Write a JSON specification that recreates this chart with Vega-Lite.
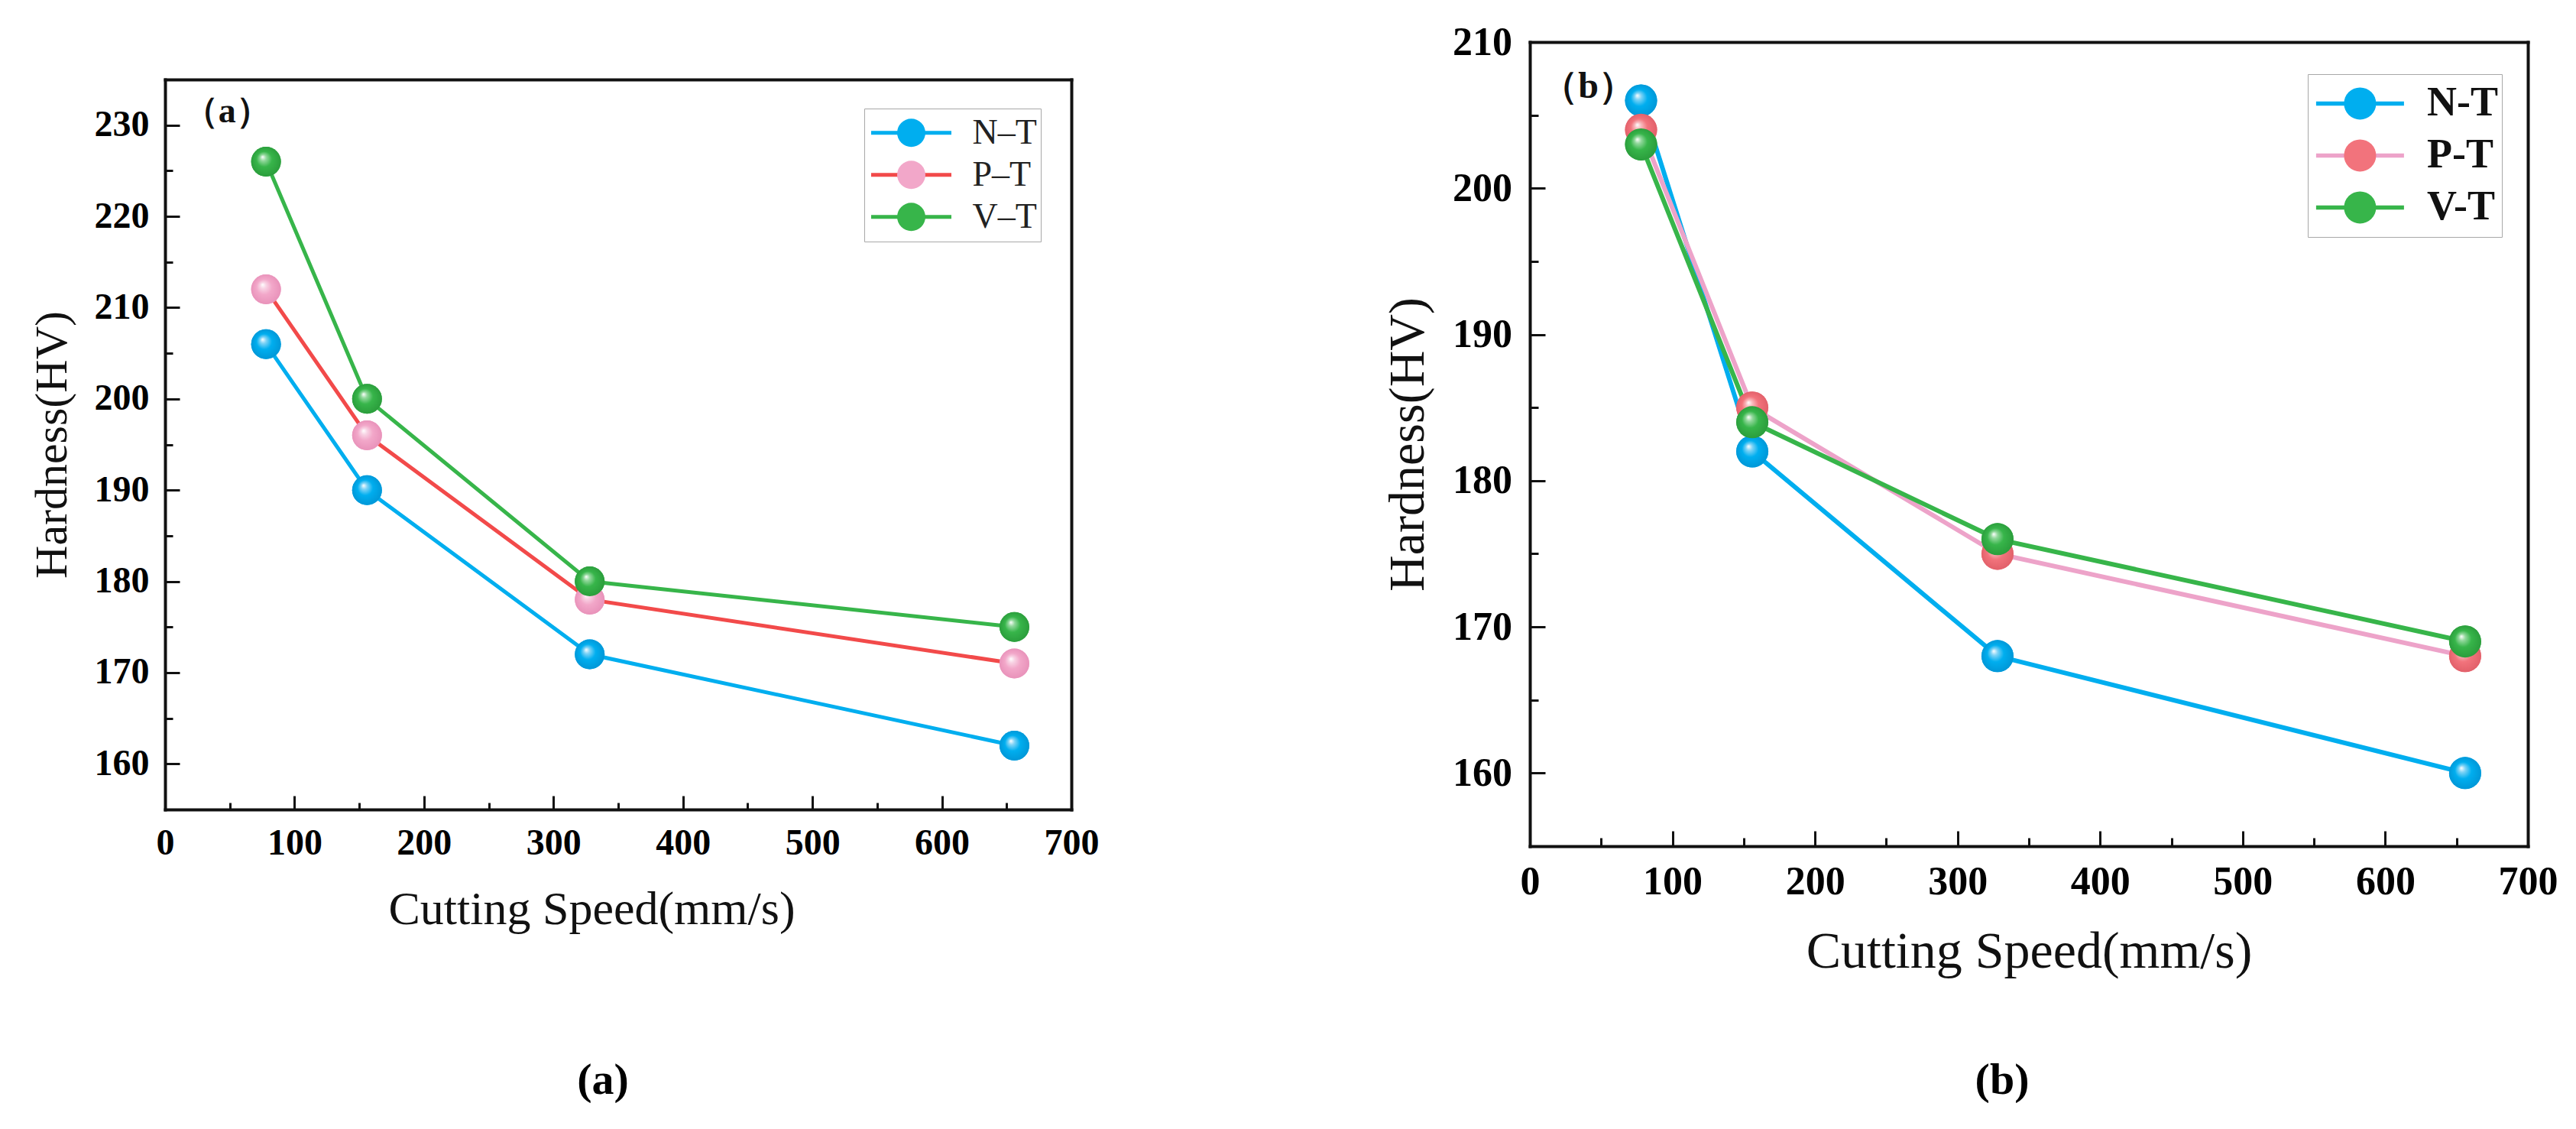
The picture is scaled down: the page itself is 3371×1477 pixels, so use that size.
{
  "$schema": "https://vega.github.io/schema/vega-lite/v6.json",
  "background": "white",
  "padding": {"left": 38, "top": 29, "right": 0, "bottom": 0},
  "datasets": {
    "hardnessA": [
      {"series": "N–T", "speed": 78, "hv": 206},
      {"series": "N–T", "speed": 156, "hv": 190},
      {"series": "N–T", "speed": 328, "hv": 172},
      {"series": "N–T", "speed": 656, "hv": 162},
      {"series": "P–T", "speed": 78, "hv": 212},
      {"series": "P–T", "speed": 156, "hv": 196},
      {"series": "P–T", "speed": 328, "hv": 178},
      {"series": "P–T", "speed": 656, "hv": 171},
      {"series": "V–T", "speed": 78, "hv": 226},
      {"series": "V–T", "speed": 156, "hv": 200},
      {"series": "V–T", "speed": 328, "hv": 180},
      {"series": "V–T", "speed": 656, "hv": 175}
    ],
    "hardnessB": [
      {"series": "N-T", "speed": 78, "hv": 206},
      {"series": "N-T", "speed": 156, "hv": 182},
      {"series": "N-T", "speed": 328, "hv": 168},
      {"series": "N-T", "speed": 656, "hv": 160},
      {"series": "P-T", "speed": 78, "hv": 204},
      {"series": "P-T", "speed": 156, "hv": 185},
      {"series": "P-T", "speed": 328, "hv": 175},
      {"series": "P-T", "speed": 656, "hv": 168},
      {"series": "V-T", "speed": 78, "hv": 203},
      {"series": "V-T", "speed": 156, "hv": 184},
      {"series": "V-T", "speed": 328, "hv": 176},
      {"series": "V-T", "speed": 656, "hv": 169}
    ],
    "tagA": [{"speed": 48, "hv": 231.5, "tag": "（a）"}],
    "tagB": [{"speed": 41, "hv": 206.9, "tag": "（b）"}]
  },
  "bounds": "flush",
  "spacing": 600,
  "resolve": {
    "scale": {"color": "independent", "fill": "independent"},
    "legend": {"color": "independent", "fill": "independent"}
  },
  "hconcat": [
    {
      "width": 1186,
      "height": 1004,
      "title": {"text": "(a)", "orient": "bottom", "anchor": "middle", "offset": 165, "dx": -20, "fontSize": 58, "font": "Liberation Serif", "fontWeight": "bold", "color": "#000"},
      "resolve": {"axis": {"x": "independent", "y": "independent"}},
      "layer": [
        {
          "data": {"name": "hardnessA"},
          "mark": {"type": "line", "strokeWidth": 5},
          "encoding": {
            "x": {"field": "speed", "type": "quantitative",
              "scale": {"domain": [0, 700], "nice": false},
              "axis": {"orient": "bottom", "values": [0, 100, 200, 300, 400, 500, 600, 700], "tickSize": -18, "tickWidth": 3, "domainWidth": 4,
                "labelFontSize": 48, "labelFontWeight": "bold", "labelPadding": 38, "labelFlush": false, "labelOverlap": false,
                "title": "Cutting Speed(mm/s)", "titleFontSize": 62, "titleFontWeight": "normal", "titlePadding": 32, "titleX": 558}},
            "y": {"field": "hv", "type": "quantitative",
              "scale": {"domain": [155, 235], "nice": false, "zero": false, "rangeMax": 49},
              "axis": {"orient": "left", "values": [160, 170, 180, 190, 200, 210, 220, 230], "tickSize": -19, "tickWidth": 3, "domainWidth": 4,
                "labelFontSize": 48, "labelFontWeight": "bold", "labelPadding": 40, "labelOverlap": false,
                "title": "Hardness(HV)", "titleFontSize": 60, "titleFontWeight": "normal", "titlePadding": 24}},
            "color": {"field": "series", "type": "nominal",
              "scale": {"range": ["#00AEEF", "#F24A4A", "#37B54A"]},
              "legend": {"orient": "none", "legendX": 915, "legendY": 87, "direction": "vertical", "title": null,
                "padding": 4.5, "clipHeight": 54.5, "rowPadding": 0,
                "symbolType": "M-2.838,0H2.838", "symbolSize": 1369, "symbolStrokeWidth": 5, "symbolOffset": 34,
                "labelOffset": 57, "labelFontSize": 46, "labelFont": "Liberation Serif", "labelFontWeight": "normal", "labelColor": "#222",
                "strokeColor": "#a8a8a8", "fillColor": "white"}}
          }
        },
        {
          "data": {"name": "hardnessA"},
          "mark": {"type": "point", "filled": true, "opacity": 1, "size": 1521, "strokeWidth": 0},
          "encoding": {
            "x": {"field": "speed", "type": "quantitative",
              "axis": {"orient": "bottom", "values": [50, 150, 250, 350, 450, 550, 650], "tickSize": -9, "tickWidth": 3, "domain": false, "labels": false, "title": null}},
            "y": {"field": "hv", "type": "quantitative",
              "axis": {"orient": "left", "values": [165, 175, 185, 195, 205, 215, 225], "tickSize": -10, "tickWidth": 3, "domain": false, "labels": false, "title": null}},
            "fill": {"field": "series", "type": "nominal",
              "scale": {"domain": ["N–T", "P–T", "V–T"], "range": ["#00AEEF", "#F2A7C9", "#37B54A"]},
              "legend": {"orient": "none", "legendX": 915, "legendY": 87, "direction": "vertical", "title": null,
                "padding": 4.5, "clipHeight": 54.5, "rowPadding": 0,
                "symbolType": "circle", "symbolSize": 1369, "symbolStrokeWidth": 0, "symbolOpacity": 1, "symbolOffset": 34,
                "labelOffset": 57, "labelFontSize": 46, "labelFont": "Liberation Serif", "labelOpacity": 0}}
          }
        },
        {
          "data": {"name": "hardnessA"},
          "transform": [{"filter": {"field": "series", "equal": "N–T"}}],
          "mark": {"type": "point", "filled": true, "opacity": 1, "size": 1521, "strokeWidth": 0,
            "fill": {"gradient": "radial", "x1": 0.38, "y1": 0.34, "r1": 0, "x2": 0.5, "y2": 0.5, "r2": 0.52,
              "stops": [{"offset": 0, "color": "#ffffff"}, {"offset": 0.2, "color": "#7fd3f6"}, {"offset": 0.5, "color": "#00AEEF"}, {"offset": 1, "color": "#0096d6"}]}},
          "encoding": {
            "x": {"field": "speed", "type": "quantitative", "axis": null},
            "y": {"field": "hv", "type": "quantitative", "axis": null}
          }
        },
        {
          "data": {"name": "hardnessA"},
          "transform": [{"filter": {"field": "series", "equal": "P–T"}}],
          "mark": {"type": "point", "filled": true, "opacity": 1, "size": 1521, "strokeWidth": 0,
            "fill": {"gradient": "radial", "x1": 0.38, "y1": 0.34, "r1": 0, "x2": 0.5, "y2": 0.5, "r2": 0.52,
              "stops": [{"offset": 0, "color": "#ffffff"}, {"offset": 0.2, "color": "#f8d3e4"}, {"offset": 0.5, "color": "#F2A7C9"}, {"offset": 1, "color": "#e891b9"}]}},
          "encoding": {
            "x": {"field": "speed", "type": "quantitative", "axis": null},
            "y": {"field": "hv", "type": "quantitative", "axis": null}
          }
        },
        {
          "data": {"name": "hardnessA"},
          "transform": [{"filter": {"field": "series", "equal": "V–T"}}],
          "mark": {"type": "point", "filled": true, "opacity": 1, "size": 1521, "strokeWidth": 0,
            "fill": {"gradient": "radial", "x1": 0.38, "y1": 0.34, "r1": 0, "x2": 0.5, "y2": 0.5, "r2": 0.52,
              "stops": [{"offset": 0, "color": "#ffffff"}, {"offset": 0.2, "color": "#92d89c"}, {"offset": 0.5, "color": "#37B54A"}, {"offset": 1, "color": "#2a9c3b"}]}},
          "encoding": {
            "x": {"field": "speed", "type": "quantitative", "axis": null},
            "y": {"field": "hv", "type": "quantitative", "axis": null}
          }
        },
        {
          "data": {"name": "tagA"},
          "mark": {"type": "text", "font": "Liberation Serif", "fontWeight": "bold", "fontSize": 46, "align": "center", "baseline": "middle", "color": "#111"},
          "encoding": {
            "x": {"field": "speed", "type": "quantitative",
              "axis": {"orient": "top", "offset": -49, "ticks": false, "labels": false, "domainWidth": 4, "title": null}},
            "y": {"field": "hv", "type": "quantitative",
              "axis": {"orient": "right", "ticks": false, "labels": false, "domainWidth": 4, "title": null}},
            "text": {"field": "tag"}
          }
        }
      ]
    },
    {
      "width": 1306,
      "height": 1052,
      "title": {"text": "(b)", "orient": "bottom", "anchor": "middle", "offset": 106, "dx": -35, "fontSize": 58, "font": "Liberation Serif", "fontWeight": "bold", "color": "#000"},
      "resolve": {"axis": {"x": "independent", "y": "independent"}},
      "layer": [
        {
          "data": {"name": "hardnessB"},
          "mark": {"type": "line", "strokeWidth": 6},
          "encoding": {
            "x": {"field": "speed", "type": "quantitative",
              "scale": {"domain": [0, 700], "nice": false},
              "axis": {"orient": "bottom", "values": [0, 100, 200, 300, 400, 500, 600, 700], "tickSize": -20, "tickWidth": 3, "domainWidth": 4,
                "labelFontSize": 52, "labelFontWeight": "bold", "labelPadding": 41, "labelFlush": false, "labelOverlap": false,
                "title": "Cutting Speed(mm/s)", "titleFontSize": 68, "titleFontWeight": "normal", "titlePadding": 32}},
            "y": {"field": "hv", "type": "quantitative",
              "scale": {"domain": [155, 210], "nice": false, "zero": false},
              "axis": {"orient": "left", "values": [160, 170, 180, 190, 200, 210], "tickSize": -20, "tickWidth": 3, "domainWidth": 4,
                "labelFontSize": 52, "labelFontWeight": "bold", "labelPadding": 43.5, "labelOverlap": false,
                "title": "Hardness(HV)", "titleFontSize": 66, "titleFontWeight": "normal", "titlePadding": 24}},
            "color": {"field": "series", "type": "nominal",
              "scale": {"range": ["#00AEEF", "#EDA3C9", "#37B54A"]},
              "legend": {"orient": "none", "legendX": 1018, "legendY": 42, "direction": "vertical", "title": null,
                "padding": 4.4, "clipHeight": 68, "rowPadding": 0,
                "symbolType": "M-2.738,0H2.738", "symbolSize": 1764, "symbolStrokeWidth": 5.5, "symbolOffset": 37,
                "labelOffset": 60.6, "labelFontSize": 54, "labelFont": "Liberation Serif", "labelFontWeight": "bold", "labelColor": "#111",
                "strokeColor": "#a8a8a8", "fillColor": "white"}}
          }
        },
        {
          "data": {"name": "hardnessB"},
          "mark": {"type": "point", "filled": true, "opacity": 1, "size": 1764, "strokeWidth": 0},
          "encoding": {
            "x": {"field": "speed", "type": "quantitative",
              "axis": {"orient": "bottom", "values": [50, 150, 250, 350, 450, 550, 650], "tickSize": -11, "tickWidth": 3, "domain": false, "labels": false, "title": null}},
            "y": {"field": "hv", "type": "quantitative",
              "axis": {"orient": "left", "values": [165, 175, 185, 195, 205], "tickSize": -11, "tickWidth": 3, "domain": false, "labels": false, "title": null}},
            "fill": {"field": "series", "type": "nominal",
              "scale": {"domain": ["N-T", "P-T", "V-T"], "range": ["#00AEEF", "#F2737C", "#37B54A"]},
              "legend": {"orient": "none", "legendX": 1018, "legendY": 42, "direction": "vertical", "title": null,
                "padding": 4.4, "clipHeight": 68, "rowPadding": 0,
                "symbolType": "circle", "symbolSize": 1764, "symbolStrokeWidth": 0, "symbolOpacity": 1, "symbolOffset": 37,
                "labelOffset": 60.6, "labelFontSize": 54, "labelFont": "Liberation Serif", "labelFontWeight": "bold", "labelOpacity": 0}}
          }
        },
        {
          "data": {"name": "hardnessB"},
          "transform": [{"filter": {"field": "series", "equal": "N-T"}}],
          "mark": {"type": "point", "filled": true, "opacity": 1, "size": 1764, "strokeWidth": 0,
            "fill": {"gradient": "radial", "x1": 0.38, "y1": 0.34, "r1": 0, "x2": 0.5, "y2": 0.5, "r2": 0.52,
              "stops": [{"offset": 0, "color": "#ffffff"}, {"offset": 0.2, "color": "#7fd3f6"}, {"offset": 0.5, "color": "#00AEEF"}, {"offset": 1, "color": "#0096d6"}]}},
          "encoding": {
            "x": {"field": "speed", "type": "quantitative", "axis": null},
            "y": {"field": "hv", "type": "quantitative", "axis": null}
          }
        },
        {
          "data": {"name": "hardnessB"},
          "transform": [{"filter": {"field": "series", "equal": "P-T"}}],
          "mark": {"type": "point", "filled": true, "opacity": 1, "size": 1764, "strokeWidth": 0,
            "fill": {"gradient": "radial", "x1": 0.38, "y1": 0.34, "r1": 0, "x2": 0.5, "y2": 0.5, "r2": 0.52,
              "stops": [{"offset": 0, "color": "#ffffff"}, {"offset": 0.2, "color": "#f8b9bd"}, {"offset": 0.5, "color": "#F2737C"}, {"offset": 1, "color": "#e15f69"}]}},
          "encoding": {
            "x": {"field": "speed", "type": "quantitative", "axis": null},
            "y": {"field": "hv", "type": "quantitative", "axis": null}
          }
        },
        {
          "data": {"name": "hardnessB"},
          "transform": [{"filter": {"field": "series", "equal": "V-T"}}],
          "mark": {"type": "point", "filled": true, "opacity": 1, "size": 1764, "strokeWidth": 0,
            "fill": {"gradient": "radial", "x1": 0.38, "y1": 0.34, "r1": 0, "x2": 0.5, "y2": 0.5, "r2": 0.52,
              "stops": [{"offset": 0, "color": "#ffffff"}, {"offset": 0.2, "color": "#92d89c"}, {"offset": 0.5, "color": "#37B54A"}, {"offset": 1, "color": "#2a9c3b"}]}},
          "encoding": {
            "x": {"field": "speed", "type": "quantitative", "axis": null},
            "y": {"field": "hv", "type": "quantitative", "axis": null}
          }
        },
        {
          "data": {"name": "tagB"},
          "mark": {"type": "text", "font": "Liberation Serif", "fontWeight": "bold", "fontSize": 48, "align": "center", "baseline": "middle", "color": "#111"},
          "encoding": {
            "x": {"field": "speed", "type": "quantitative",
              "axis": {"orient": "top", "ticks": false, "labels": false, "domainWidth": 4, "title": null}},
            "y": {"field": "hv", "type": "quantitative",
              "axis": {"orient": "right", "ticks": false, "labels": false, "domainWidth": 4, "title": null}},
            "text": {"field": "tag"}
          }
        }
      ]
    }
  ],
  "config": {
    "view": {"stroke": null},
    "font": "Liberation Serif",
    "axis": {"grid": false, "domainColor": "#111", "tickColor": "#111", "labelColor": "#000", "titleColor": "#111",
      "labelFont": "Liberation Serif", "titleFont": "Liberation Serif", "domainCap": "square"},
    "legend": {"labelFont": "Liberation Serif"}
  }
}
